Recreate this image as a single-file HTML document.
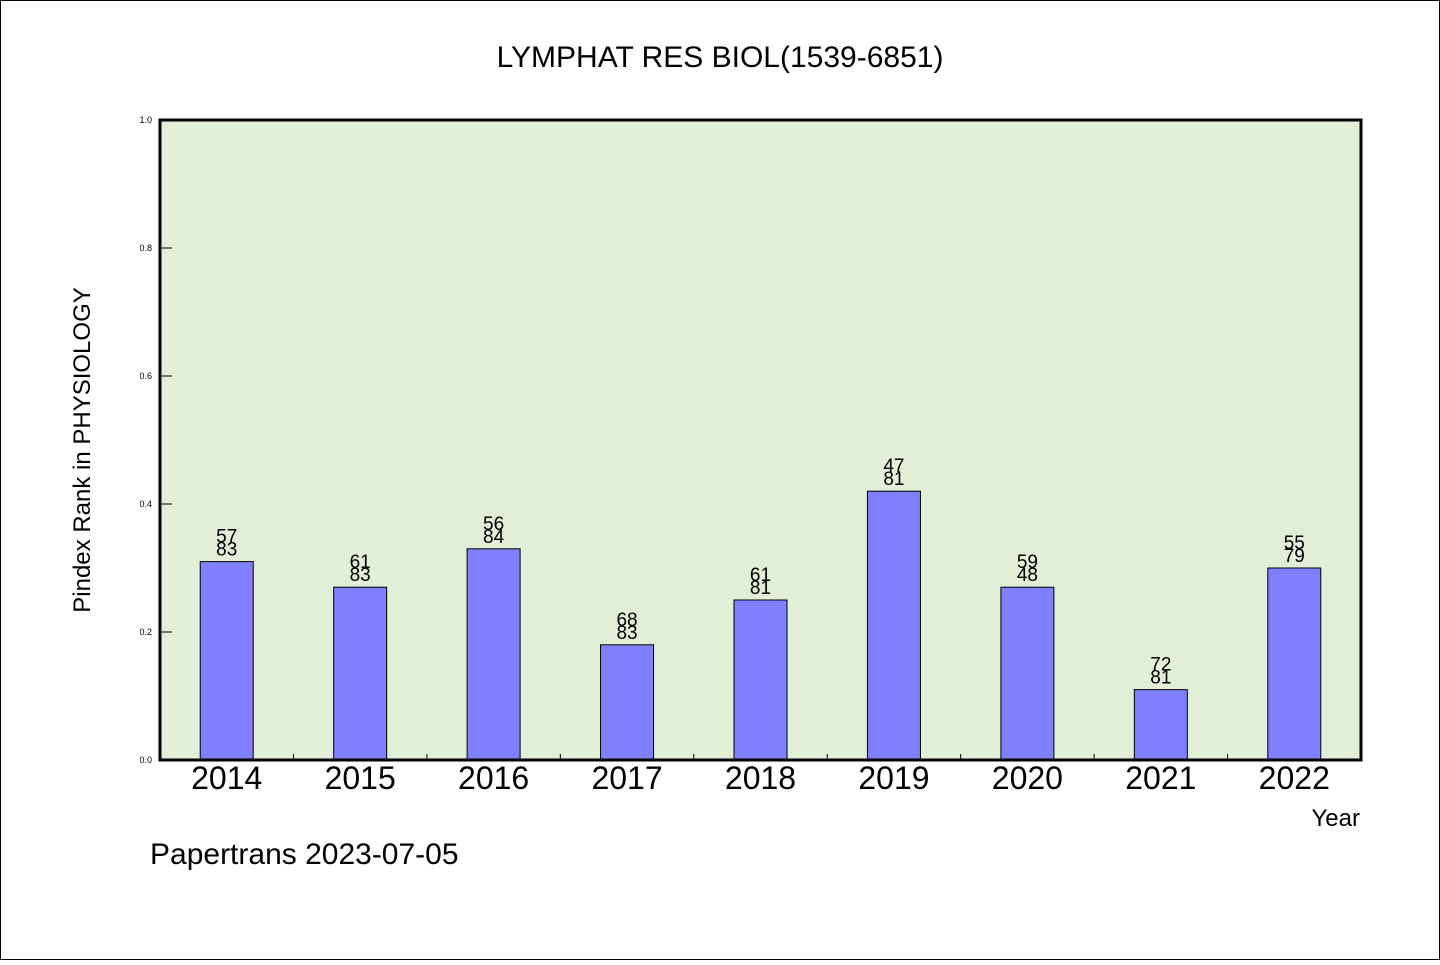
<!DOCTYPE html>
<html><head><meta charset="utf-8"><style>
body{margin:0;background:#fff}
svg text{font-family:"WenQuanYi Zen Hei","Liberation Sans",sans-serif}
</style></head><body>
<svg width="1440" height="960" xmlns="http://www.w3.org/2000/svg">
<rect x="0.5" y="0.5" width="1439" height="959" fill="#fff" stroke="#000"/>
<text x="720" y="67" font-size="30" text-anchor="middle">LYMPHAT RES BIOL(1539-6851)</text>
<rect x="160" y="120" width="1201" height="640" fill="#e2efd6"/>
<g id="ticks"></g>
<g id="bars"></g>
<rect x="160" y="120" width="1201" height="640" fill="none" stroke="#000" stroke-width="3"/>
<text transform="translate(90,450) rotate(-90)" font-size="24" text-anchor="middle">Pindex Rank in PHYSIOLOGY</text>
<text x="1360" y="826" font-size="24" text-anchor="end">Year</text>
<text x="150" y="864" font-size="30">Papertrans 2023-07-05</text>
</svg>
<script>
const categories=["2014","2015","2016","2017","2018","2019","2020","2021","2022"];
const values=[0.31,0.27,0.33,0.18,0.25,0.42,0.27,0.11,0.30];
const topLabels=["57","61","56","68","61","47","59","72","55"];
const bottomLabels=["83","83","84","83","81","81","48","81","79"];
const yTicks=[0,0.2,0.4,0.6,0.8,1.0];
const NS="http://www.w3.org/2000/svg";
const X0=160,X1=1361,Y0=760,Y1=120;
const band=(X1-X0)/categories.length;
const xC=i=>X0+band*(i+0.5);
const yS=v=>Y0-(Y0-Y1)*v;
function mk(t,a,p,txt){const e=document.createElementNS(NS,t);for(const k in a)e.setAttribute(k,a[k]);if(txt!=null)e.textContent=txt;p.appendChild(e);return e;}
const tg=document.getElementById('ticks'),bg=document.getElementById('bars');
yTicks.forEach(v=>{
 const l=mk('line',{x1:X0,x2:X0+12,y1:yS(v),y2:yS(v),stroke:'#000'},tg);
 
 
 const t=mk('text',{x:X0-8,y:yS(v)+3,'font-size':9,'text-anchor':'end'},tg,v.toFixed(1));
 
 
});
for(let i=1;i<categories.length;i++){
 const l=mk('line',{x1:X0+band*i,x2:X0+band*i,y1:Y0,y2:Y0-6,stroke:'#000'},tg);
 
 
}
const bw=53;
categories.forEach((c,i)=>{
 const cx=xC(i),y=yS(values[i]);
 const r=mk('rect',{x:cx-bw/2,y:y,width:bw,height:Y0-y,fill:'#8080ff',stroke:'#000','stroke-width':1},bg);
 
 
 const t1=mk('text',{x:cx,y:y-19,'font-size':19,'text-anchor':'middle'},bg,topLabels[i]);
 
 
 const t2=mk('text',{x:cx,y:y-6,'font-size':19,'text-anchor':'middle'},bg,bottomLabels[i]);
 
 
 const xl=mk('text',{x:cx,y:789,'font-size':32,'text-anchor':'middle'},bg,c);
 
 
});
</script>
</body></html>
